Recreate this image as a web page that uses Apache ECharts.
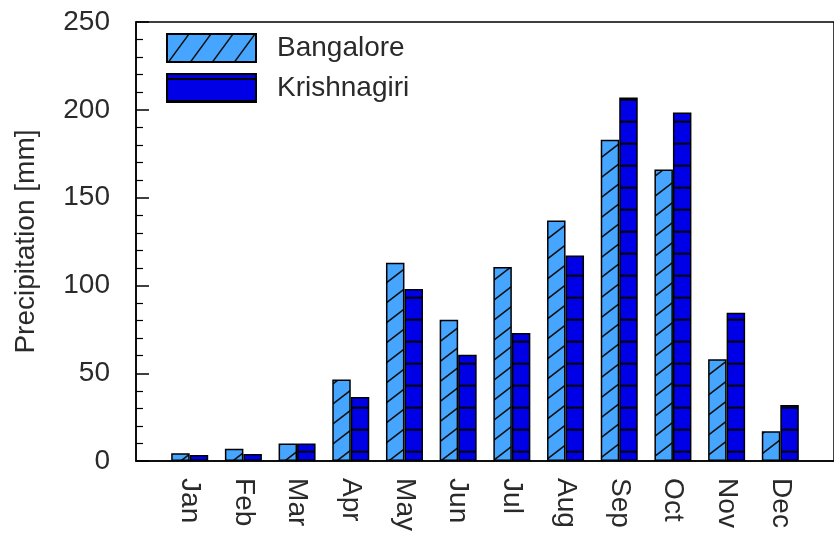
<!DOCTYPE html>
<html>
<head>
<meta charset="utf-8">
<script src="https://cdn.jsdelivr.net/npm/echarts@6/dist/echarts.min.js"></script>
<style>
  html, body { margin: 0; padding: 0; background: #fff; }
  #chart { width: 834px; height: 534px; }
</style>
</head>
<body>
<div id="chart"></div>
<script>
// Monthly mean precipitation (mm)
const months = ['Jan', 'Feb', 'Mar', 'Apr', 'May', 'Jun', 'Jul', 'Aug', 'Sep', 'Oct', 'Nov', 'Dec'];
const bangalore = [4.5, 7, 10, 46.5, 113, 80.5, 110.5, 137, 183, 166, 58, 17];
const krishnagiri = [3.5, 4, 10, 36.5, 98, 60.5, 73, 117, 207, 198.5, 84.5, 32];
const yTicks = { min: 0, max: 250, step: 50 };

const FONT = "'Liberation Sans', Arial, sans-serif";
const TEXT = '#2a2a2a';
const LIGHT = '#45A5FF';
const DARK = '#0000E6';

// Diagonal "/" hatch tile
function hatchTile(w, h, fill, lw) {
  const c = document.createElement('canvas');
  c.width = w; c.height = h;
  const g = c.getContext('2d');
  g.fillStyle = fill;
  g.fillRect(0, 0, w, h);
  g.strokeStyle = '#111';
  g.lineWidth = lw;
  g.beginPath();
  for (let k = -1; k <= 1; k++) {
    g.moveTo(k * w - w, 2 * h);
    g.lineTo(k * w + 2 * w, -h);
  }
  g.stroke();
  return c;
}

// Horizontal rule tile
function ruleTile(h, lineY, fill) {
  const c = document.createElement('canvas');
  c.width = 4; c.height = h;
  const g = c.getContext('2d');
  g.fillStyle = fill;
  g.fillRect(0, 0, 4, h);
  g.fillStyle = '#000';
  g.fillRect(0, lineY - 1, 4, 2);
  return c;
}

const barHatch = { image: hatchTile(26, 20, LIGHT, 1.6), repeat: 'repeat' };
const barRule = { image: ruleTile(22, 11.7, DARK), repeat: 'repeat' };
const keyHatch = { image: hatchTile(22, 30, LIGHT, 1.5), repeat: 'repeat' };
const keyRule = { image: ruleTile(22, 5, DARK), repeat: 'repeat' };

// Pad the category axis by one slot on each side so the months sit on ticks 1..12
const axisCats = [''].concat(months, ['']);
const pad = arr => [null].concat(arr, [null]);

const chart = echarts.init(document.getElementById('chart'), null, { renderer: 'canvas' });
chart.setOption({
  animation: false,
  backgroundColor: '#fff',
  textStyle: { fontFamily: FONT },
  grid: {
    left: 136, top: 22, width: 705, height: 441,
    show: true, borderColor: '#000', borderWidth: 1.5, backgroundColor: 'transparent'
  },
  legend: {
    orient: 'vertical',
    left: 166, top: 33,
    padding: 0,
    itemWidth: 89, itemHeight: 28, itemGap: 10,
    icon: 'rect',
    itemStyle: { borderColor: '#000', borderWidth: 2 },
    textStyle: { fontFamily: FONT, fontSize: 28, color: TEXT, padding: [0, 0, 0, 16] },
    data: [
      { name: 'Bangalore', itemStyle: { color: keyHatch } },
      { name: 'Krishnagiri', itemStyle: { color: keyRule } }
    ]
  },
  xAxis: {
    type: 'category',
    data: axisCats,
    boundaryGap: false,
    axisLine: { lineStyle: { color: '#000', width: 1.5 } },
    axisTick: { show: false },
    axisLabel: {
      interval: 0, rotate: -90, margin: 17,
      fontFamily: FONT, fontSize: 28, color: TEXT
    },
    splitLine: { show: false }
  },
  yAxis: {
    type: 'value',
    min: yTicks.min, max: yTicks.max, interval: yTicks.step,
    name: 'Precipitation [mm]',
    nameLocation: 'middle',
    nameGap: 96,
    nameTextStyle: { fontFamily: FONT, fontSize: 28, color: TEXT },
    axisLine: { show: true, lineStyle: { color: '#000', width: 1.5 } },
    axisTick: { show: true, inside: true, length: 13, lineStyle: { color: '#000', width: 1.5 } },
    minorTick: { show: true, splitNumber: 5, length: 7, lineStyle: { color: '#000', width: 1.2 } },
    axisLabel: { margin: 26, fontFamily: FONT, fontSize: 28, color: TEXT },
    splitLine: { show: false }
  },
  series: [
    {
      name: 'Bangalore', type: 'bar',
      data: pad(bangalore),
      barWidth: 18.5, barGap: '0%',
      itemStyle: { color: barHatch, borderColor: '#000', borderWidth: 1.5 }
    },
    {
      name: 'Krishnagiri', type: 'bar',
      data: pad(krishnagiri),
      barWidth: 18.5, barGap: '0%',
      itemStyle: { color: barRule, borderColor: '#000', borderWidth: 1.5 }
    }
  ]
});
</script>
</body>
</html>
